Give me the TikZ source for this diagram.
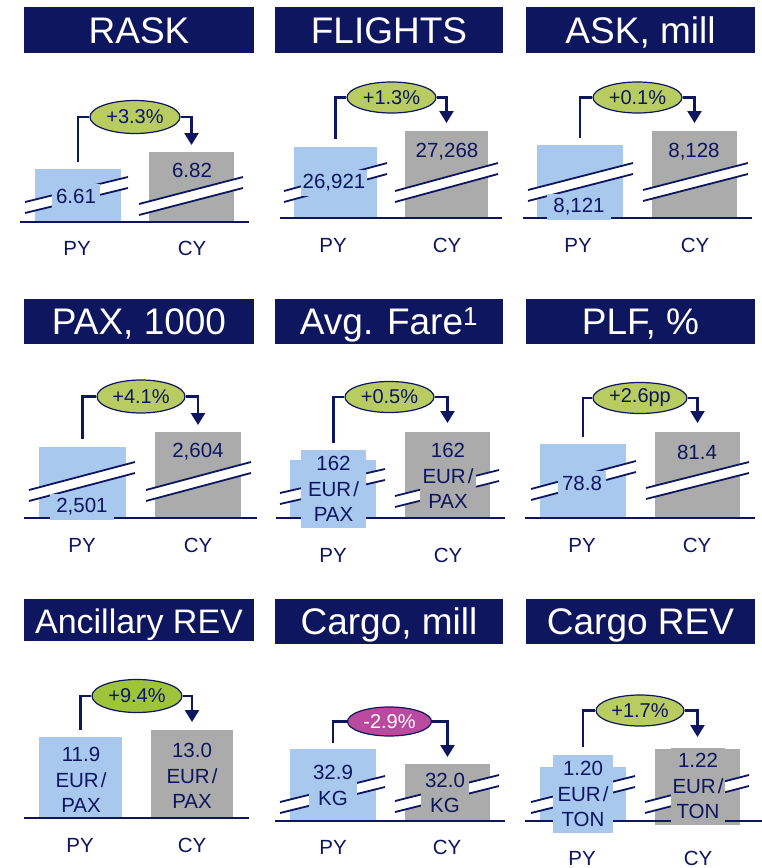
\documentclass[tikz,border=0pt]{standalone}
\usepackage{fontspec}
\setmainfont{Liberation Sans}
\usetikzlibrary{shapes.geometric,arrows.meta}
\definecolor{navy}{RGB}{13,22,94}
\definecolor{pyblue}{RGB}{168,200,238}
\definecolor{cygray}{RGB}{171,171,171}
\definecolor{elgreen}{RGB}{184,204,98}
\definecolor{elgreenB}{RGB}{158,196,58}
\definecolor{elmag}{RGB}{185,74,158}
\newcommand\eur{EUR\kern2pt/}
\tikzset{
 title/.style={fill=navy, text=white, inner sep=0pt, font=\fontsize{37}{39}\selectfont, text height=29pt, text depth=3pt},
 pybar/.style={fill=pyblue, inner sep=0pt, outer sep=0pt, anchor=north west},
 cybar/.style={fill=cygray, inner sep=0pt, outer sep=0pt, anchor=north west},
 baseln/.style={draw=navy, line width=1.8pt},
 brkline/.style={draw=navy, line width=1.8pt},
 pyval/.style={fill=pyblue, text=navy, font=\fontsize{20.5}{25.5}\selectfont, align=center, inner xsep=4pt, inner ysep=5pt},
 cyval/.style={fill=cygray, text=navy, font=\fontsize{20.5}{25.5}\selectfont, align=center, inner xsep=4pt, inner ysep=5pt},
 chg/.style={ellipse, draw=navy, line width=1.2pt, fill=elgreen, text=navy, font=\fontsize{20}{21}\selectfont, inner sep=0pt},
 conn/.style={draw=navy, line width=2.5pt},
 arr/.style={draw=navy, line width=2.5pt, -{Triangle[width=14pt,length=12pt]}},
 axlbl/.style={text=navy, font=\fontsize{20.5}{22}\selectfont, inner sep=0pt},
}
\newcommand\brk[4]{%
 \fill[white] (#1,#2) -- (#3,#4) -- (#3,#4+11) -- (#1,#2+11) -- cycle;
 \draw[brkline] (#1,#2) -- (#3,#4) (#1,#2+11) -- (#3,#4+11);}
\begin{document}
\begin{tikzpicture}[x=1pt,y=-1pt]
\fill[white] (0,0) rectangle (762,868);
\useasboundingbox (0,0) rectangle (762,868);

% ---------- RASK ----------
\node[title, minimum width=230pt, minimum height=46pt] (tA) at (139,30) {RASK};
\node[pybar, minimum width=86pt, minimum height=53pt] (pA) at (35,169) {};
\node[cybar, minimum width=85pt, minimum height=70pt] (cA) at (149,152) {};
\coordinate (bAl) at (20,222); \coordinate (bAr) at (249,222);
\draw[baseln] (bAl) -- (bAr);
\brk{25}{202}{128}{177}
\brk{139}{204}{243}{177}
\node[pyval] (vpA) at (76,196) {6.61};
\node[cyval] (vcA) at (192,170) {6.82};
\node[chg, minimum width=90pt, minimum height=33pt] (eA) at (135,117) {+3.3\%};
\draw[conn] ([yshift=7pt]pA.north) |- (eA.west);
\draw[arr] (eA.east) -| ([yshift=7pt]cA.north);
\node[axlbl] (lpA) at (77,248) {PY};
\node[axlbl] (lcA) at (192,248) {CY};

% ---------- FLIGHTS ----------
\node[title, minimum width=228pt, minimum height=46pt] (tB) at (389,30) {FLIGHTS};
\node[pybar, minimum width=83pt, minimum height=71pt] (pB) at (294,147) {};
\node[cybar, minimum width=83pt, minimum height=87pt] (cB) at (405,131) {};
\coordinate (bBl) at (280,218); \coordinate (bBr) at (502,218);
\draw[baseln] (bBl) -- (bBr);
\brk{284}{191}{387}{163}
\brk{395}{191}{498}{163}
\node[pyval, inner xsep=2pt] (vpB) at (334,183) {26,921};
\node[cyval] (vcB) at (447,152) {27,268};
\node[chg, minimum width=89pt, minimum height=31pt] (eB) at (391.5,97.5) {+1.3\%};
\draw[conn] ([yshift=8pt]pB.north) |- (eB.west);
\draw[arr] (eB.east) -| ([yshift=8pt]cB.north);
\node[axlbl] (lpB) at (333,245) {PY};
\node[axlbl] (lcB) at (447,245) {CY};

% ---------- ASK ----------
\node[title, minimum width=229pt, minimum height=46pt] (tC) at (640.5,30) {ASK, mill};
\node[pybar, minimum width=86pt, minimum height=73pt] (pC) at (537,145) {};
\node[cybar, minimum width=85pt, minimum height=87pt] (cC) at (652,131) {};
\coordinate (bCl) at (523,218); \coordinate (bCr) at (752,218);
\draw[baseln] (bCl) -- (bCr);
\brk{528}{190}{633}{163}
\brk{643}{190}{748}{163}
\node[pyval, inner xsep=6pt] (vpC) at (579,207) {8,121};
\node[cyval] (vcC) at (694,152) {8,128};
\node[chg, minimum width=89pt, minimum height=31pt] (eC) at (637.5,97.5) {+0.1\%};
\draw[conn] ([yshift=7pt]pC.north) |- (eC.west);
\draw[arr] (eC.east) -| ([yshift=8pt]cC.north);
\node[axlbl] (lpC) at (578,245) {PY};
\node[axlbl] (lcC) at (695,245) {CY};

% ---------- PAX ----------
\node[title, minimum width=230pt, minimum height=45pt] (tD) at (139,321.5) {PAX, 1000};
\node[pybar, minimum width=87pt, minimum height=71pt] (pD) at (39,447) {};
\node[cybar, minimum width=86pt, minimum height=86pt] (cD) at (155,432) {};
\coordinate (bDl) at (24,518); \coordinate (bDr) at (257,518);
\draw[baseln] (bDl) -- (bDr);
\brk{29}{490}{135}{462}
\brk{146}{490}{251}{462}
\node[pyval, inner xsep=6pt] (vpD) at (82,507) {2,501};
\node[cyval] (vcD) at (198,452) {2,604};
\node[chg, minimum width=88pt, minimum height=33pt] (eD) at (141,396.5) {+4.1\%};
\draw[conn] ([yshift=8pt]pD.north) |- (eD.west);
\draw[arr] (eD.east) -| ([yshift=7pt]cD.north);
\node[axlbl] (lpD) at (82,545) {PY};
\node[axlbl] (lcD) at (198,545) {CY};

% ---------- Avg. Fare ----------
\node[title, minimum width=228pt, minimum height=45pt] (tE) at (389,321.5) {Avg. Fare\textsuperscript{1}};
\node[pybar, minimum width=86pt, minimum height=58pt] (pE) at (290,460) {};
\node[cybar, minimum width=85pt, minimum height=86pt] (cE) at (405,432) {};
\coordinate (bEl) at (276,518); \coordinate (bEr) at (505,518);
\draw[baseln] (bEl) -- (bEr);
\brk{280}{493}{385}{469}
\brk{395}{496}{499}{470}
\node[pyval, minimum width=65pt, minimum height=78pt, inner xsep=0pt] (vpE) at (333.5,489) {162\\\eur\\PAX};
\node[cyval, inner xsep=3pt] (vcE) at (448,476) {162\\\eur\\PAX};
\node[chg, minimum width=89pt, minimum height=31pt] (eE) at (389.5,397) {+0.5\%};
\draw[conn] ([yshift=7pt]vpE.north) |- (eE.west);
\draw[arr] (eE.east) -| ([yshift=9pt]cE.north);
\node[axlbl] (lpE) at (333,555) {PY};
\node[axlbl] (lcE) at (448,555) {CY};

% ---------- PLF ----------
\node[title, minimum width=229pt, minimum height=45pt] (tF) at (640.5,321.5) {PLF, \%};
\node[pybar, minimum width=86pt, minimum height=74pt] (pF) at (540,444) {};
\node[cybar, minimum width=85pt, minimum height=86pt] (cF) at (655,432) {};
\coordinate (bFl) at (525,518); \coordinate (bFr) at (755,518);
\draw[baseln] (bFl) -- (bFr);
\brk{531}{489}{636}{461}
\brk{646}{488}{749}{462}
\node[pyval] (vpF) at (582,483) {78.8};
\node[cyval] (vcF) at (697,452) {81.4};
\node[chg, minimum width=94pt, minimum height=31pt] (eF) at (640,398) {+2.6pp};
\draw[conn] ([yshift=7pt]pF.north) |- (eF.west);
\draw[arr] (eF.east) -| ([yshift=9pt]cF.north);
\node[axlbl] (lpF) at (582,545) {PY};
\node[axlbl] (lcF) at (697,545) {CY};

% ---------- Ancillary REV ----------
\node[title, font=\fontsize{34}{36}\selectfont, minimum width=230pt, minimum height=42pt] (tG) at (139,620) {Ancillary REV};
\node[pybar, minimum width=83pt, minimum height=81pt] (pG) at (39,737) {};
\node[cybar, minimum width=82pt, minimum height=88pt] (cG) at (151,730) {};
\coordinate (bGl) at (24,818); \coordinate (bGr) at (249,818);
\draw[baseln] (bGl) -- (bGr);
\node[pyval, inner sep=1pt] (vpG) at (81,780) {11.9\\\eur\\PAX};
\node[cyval, inner sep=1pt] (vcG) at (192,776) {13.0\\\eur\\PAX};
\node[chg, fill=elgreenB, minimum width=90pt, minimum height=33pt] (eG) at (137,696) {+9.4\%};
\draw[conn] ([yshift=7pt]pG.north) |- (eG.west);
\draw[arr] (eG.east) -| ([yshift=8pt]cG.north);
\node[axlbl] (lpG) at (80,845) {PY};
\node[axlbl] (lcG) at (192,845) {CY};

% ---------- Cargo, mill ----------
\node[title, minimum width=228pt, minimum height=45pt] (tH) at (389,621.5) {Cargo, mill};
\node[pybar, minimum width=86pt, minimum height=72pt] (pH) at (290,749) {};
\node[cybar, minimum width=85pt, minimum height=57pt] (cH) at (405,764) {};
\coordinate (bHl) at (275,821); \coordinate (bHr) at (505,821);
\draw[baseln] (bHl) -- (bHr);
\brk{280}{802}{385}{776}
\brk{395}{801}{499}{775}
\node[pyval] (vpH) at (333,785.5) {32.9\\KG};
\node[cyval] (vcH) at (445,793) {32.0\\KG};
\node[chg, fill=elmag, text=white, minimum width=84pt, minimum height=29pt] (eH) at (389.5,721.5) {-2.9\%};
\draw[conn] ([yshift=6pt]pH.north) |- (eH.west);
\draw[arr] (eH.east) -| ([yshift=7pt]cH.north);
\node[axlbl] (lpH) at (333,847) {PY};
\node[axlbl] (lcH) at (447,847) {CY};

% ---------- Cargo REV ----------
\node[title, minimum width=229pt, minimum height=45pt] (tI) at (640.5,621.5) {Cargo REV};
\node[pybar, minimum width=86pt, minimum height=54pt] (pI) at (540,767) {};
\node[cybar, minimum width=85pt, minimum height=76pt] (cI) at (655,749) {};
\coordinate (bIl) at (525,821); \coordinate (bIr) at (762,821);
\draw[baseln] (bIl) -- (bIr);
\brk{531}{802}{635}{776}
\brk{645}{802}{749}{775}
\node[pyval, minimum width=60pt, minimum height=78pt, inner xsep=0pt] (vpI) at (583,794) {1.20\\\eur\\TON};
\node[cyval, inner xsep=2pt] (vcI) at (698,786) {1.22\\\eur\\TON};
\node[chg, minimum width=88pt, minimum height=31pt] (eI) at (640,710.5) {+1.7\%};
\draw[conn] ([yshift=8pt]vpI.north) |- (eI.west);
\draw[arr] (eI.east) -| ([yshift=12pt]cI.north);
\node[axlbl] (lpI) at (582,858) {PY};
\node[axlbl] (lcI) at (698,858) {CY};
\end{tikzpicture}
\end{document}
